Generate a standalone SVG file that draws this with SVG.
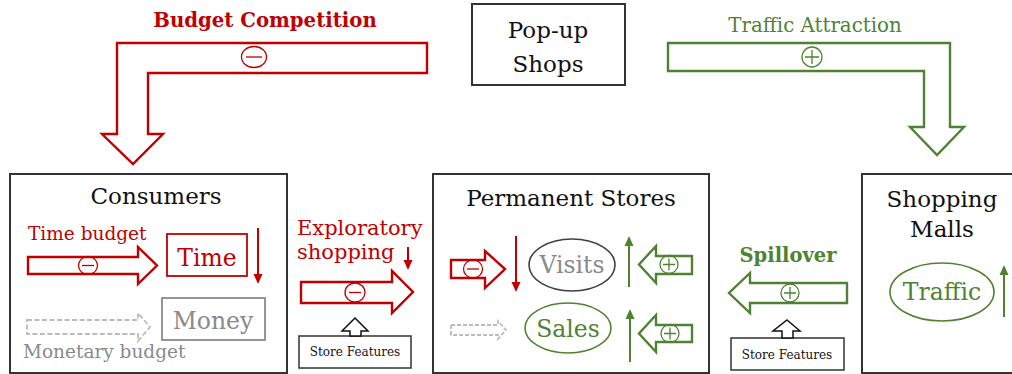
<svg xmlns="http://www.w3.org/2000/svg" width="1012" height="374" viewBox="0 0 1012 374">
<style>
text{font-family:"DejaVu Serif","Liberation Serif",serif}
.box{fill:#fff;stroke:#333;stroke-width:2}
.title{font-size:23px;fill:#111;text-anchor:middle}
.red{fill:#C00000}
.grn{fill:#4F8232}
.gry{fill:#8a8a8a}
.rarrow{fill:#fff;stroke:#C00000;stroke-width:2.4;stroke-linejoin:miter}
.garrow{fill:#fff;stroke:#4F8232;stroke-width:2.4;stroke-linejoin:miter}
.darrow{fill:#fff;stroke:#BBBBBB;stroke-width:1.8;stroke-dasharray:5 2.5}
.karrow{fill:#fff;stroke:#111;stroke-width:1.5}
.rsign{fill:none;stroke:#C00000;stroke-width:1.3}
.gsign{fill:none;stroke:#4F8232;stroke-width:1.3}
.rline{stroke:#C00000;stroke-width:2;fill:none}
.gline{stroke:#4F8232;stroke-width:2;fill:none}
.sf{font-size:12px;fill:#111;text-anchor:middle}
.mid{text-anchor:middle}
</style>
<defs>
<marker id="mr" viewBox="0 0 10 10" refX="8" refY="5" markerWidth="5" markerHeight="5" orient="auto"><path d="M0,0.5 L10,5 L0,9.5 z" fill="#C00000"/></marker>
<marker id="mg" viewBox="0 0 10 10" refX="8" refY="5" markerWidth="5" markerHeight="5" orient="auto"><path d="M0,0.5 L10,5 L0,9.5 z" fill="#4F8232"/></marker>
</defs>

<g id="popup">
<rect class="box" x="472" y="4" width="153" height="81"/>
<text class="title" x="548" y="38">Pop-up</text>
<text class="title" x="548" y="72">Shops</text>
</g>

<g id="consumers">
<rect class="box" x="10" y="174" width="277" height="199"/>
<text class="title" x="156" y="204">Consumers</text>
<text class="red" x="28" y="240" style="font-size:18.5px">Time budget</text>
<rect x="167" y="234" width="80" height="42" fill="#fff" stroke="#C00000" stroke-width="1.8"/>
<text class="red mid" x="207" y="266" style="font-size:23.5px">Time</text>
<rect x="162" y="298" width="103" height="42" fill="#fff" stroke="#8a8a8a" stroke-width="1.8"/>
<text class="gry mid" x="213" y="329" style="font-size:23.5px">Money</text>
<text class="gry" x="23" y="358" style="font-size:18.5px">Monetary budget</text>
</g>

<g id="permanent-stores">
<rect class="box" x="433" y="174" width="276" height="199"/>
<text class="title" x="571" y="206">Permanent Stores</text>
<ellipse cx="572" cy="265" rx="43" ry="26" fill="#fff" stroke="#404040" stroke-width="1.6"/>
<text class="gry mid" x="572" y="273" style="font-size:23.5px">Visits</text>
<ellipse cx="568" cy="328" rx="43" ry="25" fill="#fff" stroke="#4F8232" stroke-width="1.6"/>
<text class="grn mid" x="568" y="337" style="font-size:23.5px">Sales</text>
</g>

<g id="shopping-malls">
<rect class="box" x="862" y="174" width="160" height="199"/>
<text class="title" x="942" y="207">Shopping</text>
<text class="title" x="942" y="237">Malls</text>
<ellipse cx="942" cy="292" rx="52" ry="29" fill="#fff" stroke="#4F8232" stroke-width="1.6"/>
<text class="grn mid" x="942" y="300" style="font-size:23.5px">Traffic</text>
</g>

<g id="store-features-1">
<rect class="box" x="299" y="336" width="112" height="32" style="stroke-width:1.5"/>
<text class="sf" x="355" y="356">Store Features</text>
</g>

<g id="store-features-2">
<rect class="box" x="731" y="338" width="113" height="32" style="stroke-width:1.5"/>
<text class="sf" x="787" y="359">Store Features</text>
</g>

<g id="connectors">
<text class="red mid" x="265" y="27" style="font-size:19.7px;font-weight:bold">Budget Competition</text>
<path class="rarrow" d="M427,43 L117,43 L117,134 L102,134 L133,164 L163,134 L148,134 L148,73 L427,73 Z"/>
<ellipse class="rsign" cx="254" cy="57" rx="12.5" ry="10.5"/>
<line class="rsign" x1="246" y1="57" x2="262" y2="57"/>

<text class="grn mid" x="815" y="32" style="font-size:19.8px">Traffic Attraction</text>
<path class="garrow" d="M668,43 L950,43 L950,127 L964,127 L937,155 L910,127 L924,127 L924,71 L668,71 Z"/>
<circle class="gsign" cx="812" cy="57" r="10"/>
<path class="gsign" d="M805,57 H819 M812,50 V64"/>

<path class="rarrow" d="M28,257 L138,257 L138,247 L157,265.5 L138,284 L138,274 L28,274 Z"/>
<ellipse class="rsign" cx="88" cy="265.5" rx="9.5" ry="9"/>
<line class="rsign" x1="82" y1="265.5" x2="94" y2="265.5"/>
<line class="rline" x1="258" y1="228" x2="258" y2="282" marker-end="url(#mr)"/>

<path class="darrow" d="M27,320 L138,320 L138,313 L150,327 L138,341 L138,334 L27,334 Z"/>

<text class="red" x="297" y="235" style="font-size:21px">Exploratory</text>
<text class="red" x="297" y="259" style="font-size:21px">shopping</text>
<line class="rline" x1="408" y1="247" x2="408" y2="268" marker-end="url(#mr)"/>
<path class="rarrow" d="M301,282 L392,282 L392,271 L413,292 L392,313 L392,303 L301,303 Z"/>
<ellipse class="rsign" cx="355" cy="292.5" rx="10" ry="9.5"/>
<line class="rsign" x1="349" y1="292.5" x2="361" y2="292.5"/>
<path class="karrow" d="M355,318 L368,331 L361,331 L361,336 L350,336 L350,331 L342,331 Z"/>

<path class="rarrow" d="M451,260 L485,260 L485,251 L505,269 L485,288 L485,278 L451,278 Z"/>
<ellipse class="rsign" cx="473" cy="269" rx="9.5" ry="9"/>
<line class="rsign" x1="467" y1="269" x2="479" y2="269"/>
<line class="rline" x1="516" y1="236" x2="516" y2="290" marker-end="url(#mr)"/>
<path class="darrow" d="M451,325 L498,325 L498,321 L506,330 L498,339 L498,335 L451,335 Z" style="stroke-dasharray:4 2"/>
<line class="gline" x1="629" y1="287" x2="629" y2="238" marker-end="url(#mg)"/>
<line class="gline" x1="630" y1="362" x2="630" y2="311" marker-end="url(#mg)"/>
<path class="garrow" d="M692,256 L656,256 L656,246 L639,264.5 L656,283 L656,274 L692,274 Z"/>
<circle class="gsign" cx="669" cy="264.5" r="9"/>
<path class="gsign" d="M663,264.5 H675 M669,258.5 V270.5"/>
<path class="garrow" d="M692,325 L656,325 L656,315 L639,333.5 L656,352 L656,342 L692,342 Z"/>
<circle class="gsign" cx="670" cy="333.5" r="9"/>
<path class="gsign" d="M664,333.5 H676 M670,327.5 V339.5"/>

<text class="grn mid" x="788" y="262" style="font-size:19.5px;font-weight:bold">Spillover</text>
<path class="garrow" d="M847,283 L750,283 L750,273 L729,293 L750,313 L750,303 L847,303 Z"/>
<circle class="gsign" cx="790" cy="293" r="9"/>
<path class="gsign" d="M784,293 H796 M790,287 V299"/>
<path class="karrow" d="M787,320 L800,331 L793,331 L793,338 L782,338 L782,331 L773,331 Z"/>

<line class="gline" x1="1004" y1="317" x2="1004" y2="267" marker-end="url(#mg)"/>
</g>
</svg>
